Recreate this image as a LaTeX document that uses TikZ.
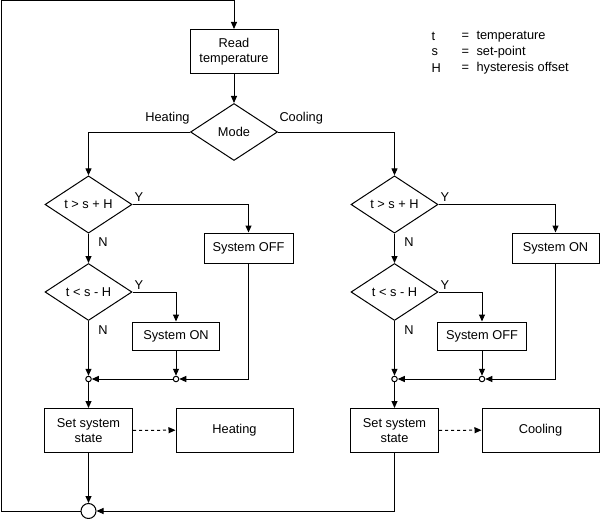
\documentclass[tikz,border=0pt]{standalone}
\usepackage{fontspec}
\setmainfont{Liberation Sans}
\usetikzlibrary{shapes.geometric,arrows.meta}
\begin{document}
\begin{tikzpicture}[x=1pt,y=-1pt,line width=1pt,
  font=\fontsize{12.8}{15.5}\selectfont,
  >={Triangle[length=7pt,width=6pt]},
  box/.style={draw,rectangle,align=center,inner sep=0pt},
  dec/.style={draw,diamond,inner sep=0pt,minimum width=87pt,minimum height=57pt},
  junc/.style={draw,circle,fill=white,inner sep=0pt,minimum size=5.5pt},
  bigjunc/.style={draw,circle,fill=white,inner sep=0pt,minimum size=15pt},
  lbl/.style={inner sep=0pt}]
\useasboundingbox (0,0) rectangle (600,519);

% top
\node[box,minimum width=88pt,minimum height=44pt] (read) at (234,51.5) {Read\\temperature};
\node[dec] (mode) at (234,132) {Mode};
\node[lbl,anchor=east] (lheat) at (190,118) {Heating};
\node[lbl,anchor=west] (lcool) at (279,118) {Cooling};

% legend
\node[lbl,anchor=west] (lt) at (431,36.5) {t};
\node[lbl,anchor=west] (ls) at (431,52.5) {s};
\node[lbl,anchor=west] (lH) at (431,68) {H};
\node[lbl,anchor=west] (e1) at (461,36) {=};
\node[lbl,anchor=west] (e2) at (461,52) {=};
\node[lbl,anchor=west] (e3) at (461,68) {=};
\node[lbl,anchor=west] (d1) at (476,36.5) {temperature};
\node[lbl,anchor=west] (d2) at (476,52.5) {set-point};
\node[lbl,anchor=west] (d3) at (476,68) {hysteresis offset};

% heating branch
\node[dec] (h1) at (88.5,204.5) {t > s + H};
\node[dec] (h2) at (88.5,292) {t < s - H};
\node[box,minimum width=89pt,minimum height=30pt] (hoff) at (248.5,248) {System OFF};
\node[box,minimum width=87pt,minimum height=28pt] (hon) at (176,336) {System ON};
\node[junc] (hj1) at (88.5,379) {};
\node[junc] (hj2) at (176,379) {};
\node[box,minimum width=88pt,minimum height=44pt] (hset) at (88.5,430.5) {Set system\\state};
\node[box,minimum width=117pt,minimum height=44pt] (heat) at (234.5,430) {Heating};
\node[lbl] (hy1) at (139,197) {Y};
\node[lbl] (hn1) at (103,242) {N};
\node[lbl] (hy2) at (139,285) {Y};
\node[lbl] (hn2) at (103,330) {N};

% cooling branch
\node[dec] (c1) at (394.5,204.5) {t > s + H};
\node[dec] (c2) at (394.5,292) {t < s - H};
\node[box,minimum width=87pt,minimum height=30pt] (con) at (555.5,248) {System ON};
\node[box,minimum width=89pt,minimum height=28pt] (coff) at (482,336) {System OFF};
\node[junc] (cj1) at (394.5,379) {};
\node[junc] (cj2) at (482,379) {};
\node[box,minimum width=88pt,minimum height=44pt] (cset) at (394.5,430.5) {Set system\\state};
\node[box,minimum width=117pt,minimum height=44pt] (cool) at (540.5,430) {Cooling};
\node[lbl] (cy1) at (445,197) {Y};
\node[lbl] (cn1) at (409,242) {N};
\node[lbl] (cy2) at (445,285) {Y};
\node[lbl] (cn2) at (409,330) {N};

\node[bigjunc] (end) at (88.5,511) {};
\coordinate (topleft) at (1,1);

% connectors
\draw[->] (read) -- (mode);
\draw[->] (mode.west) -| (h1.north);
\draw[->] (mode.east) -| (c1.north);

\draw[->] (h1.east) -| (hoff.north);
\draw[->] (h1) -- (h2);
\draw[->] (h2.east) -| (hon.north);
\draw[->] (h2) -- (hj1);
\draw[->] (hon) -- (hj2);
\draw[->] (hoff.south) |- (hj2.east);
\draw[->] (hj2) -- (hj1);
\draw[->] (hj1) -- (hset);
\draw[->,dashed] (hset) -- (heat);
\draw[->] (hset) -- (end);

\draw[->] (c1.east) -| (con.north);
\draw[->] (c1) -- (c2);
\draw[->] (c2.east) -| (coff.north);
\draw[->] (c2) -- (cj1);
\draw[->] (coff) -- (cj2);
\draw[->] (con.south) |- (cj2.east);
\draw[->] (cj2) -- (cj1);
\draw[->] (cj1) -- (cset);
\draw[->,dashed] (cset) -- (cool);
\draw[->] (cset.south) |- (end.east);

\draw[->] (end.west) -| (topleft) -| (read.north);
\end{tikzpicture}
\end{document}
